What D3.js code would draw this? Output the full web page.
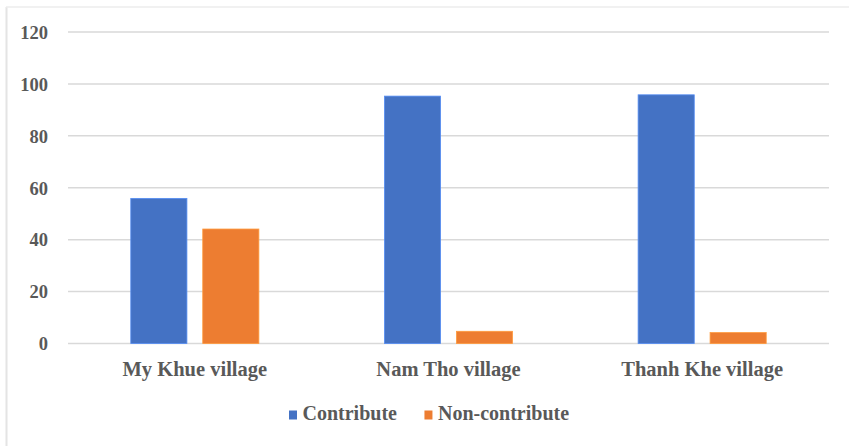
<!DOCTYPE html>
<html>
<head>
<meta charset="utf-8">
<script src="https://cdn.jsdelivr.net/npm/d3@7"></script>
<style>
  body { margin: 0; background: #fff; }
</style>
</head>
<body>
<div id="chart"></div>
<script>
// chart values
const categories = ["My Khue village", "Nam Tho village", "Thanh Khe village"];
const seriesNames = ["Contribute", "Non-contribute"];
const contribute = [55.9, 95.3, 95.8];
const nonContribute = [44.1, 4.7, 4.2];
const yTicks = [0, 20, 40, 60, 80, 100, 120];

const colors = {"Contribute": "#4472c4", "Non-contribute": "#ed7d31"};
const serif = "'Liberation Serif'";

const width = 849, height = 446;
const margin = {top: 32, left: 68};
const innerW = 829 - margin.left, innerH = 343.5 - margin.top;

const svg = d3.select("#chart").append("svg")
    .attr("width", width)
    .attr("height", height);

// faint chart border (left and top only visible)
svg.append("line").attr("x1", 6.5).attr("x2", 6.5).attr("y1", 7).attr("y2", height)
    .attr("stroke", "#e4e4e4").attr("stroke-width", 2);
svg.append("line").attr("x1", 6).attr("x2", width).attr("y1", 7).attr("y2", 7)
    .attr("stroke", "#ececec").attr("stroke-width", 1.5);

const g = svg.append("g")
    .attr("transform", "translate(" + margin.left + "," + margin.top + ")");

const y = d3.scaleLinear().domain([0, 120]).range([innerH, 0]);

const x0 = d3.scaleBand().domain(categories).range([0, innerW]).paddingInner(0.495).paddingOuter(0.2475);
const x1 = d3.scaleBand().domain(seriesNames).range([0, x0.bandwidth()]).paddingInner(0.22);

// gridlines
g.append("g")
    .selectAll("line")
    .data(yTicks)
    .enter().append("line")
    .attr("x1", 0).attr("x2", innerW)
    .attr("y1", d => y(d)).attr("y2", d => y(d))
    .attr("stroke", "#d9d9d9")
    .attr("stroke-width", 1.5);

// y axis labels
const yAxis = g.append("g")
    .call(d3.axisLeft(y).tickValues(yTicks).tickSize(0).tickPadding(20));
yAxis.select(".domain").remove();
yAxis.selectAll("text")
    .style("font-family", serif)
    .style("font-size", "18.5px")
    .style("font-weight", "bold")
    .style("fill", "#595959")
    .attr("dy", "0.34em");

// bars
const rows = categories.map((c, i) => ({cat: c, values: [
    {key: "Contribute", value: contribute[i]},
    {key: "Non-contribute", value: nonContribute[i]}
]}));

g.selectAll(".group")
    .data(rows)
    .enter().append("g")
    .attr("transform", d => "translate(" + x0(d.cat) + ",0)")
    .selectAll("rect")
    .data(d => d.values)
    .enter().append("rect")
    .attr("x", d => x1(d.key))
    .attr("width", x1.bandwidth())
    .attr("y", d => y(d.value))
    .attr("height", d => innerH - y(d.value))
    .attr("fill", d => colors[d.key])
    .attr("stroke", d => d3.color(colors[d.key]).brighter(0.6))
    .attr("stroke-width", 0.8);

// x axis labels
const xAxis = g.append("g")
    .attr("transform", "translate(0," + innerH + ")")
    .call(d3.axisBottom(x0).tickSize(0).tickPadding(17.6));
xAxis.select(".domain").remove();
xAxis.selectAll("text")
    .style("font-family", serif)
    .style("font-size", "20.5px")
    .style("font-weight", "bold")
    .style("fill", "#595959");

// legend
const legend = svg.append("g").attr("transform", "translate(289,420)");
let lx = 0;
seriesNames.forEach(function (name) {
    const item = legend.append("g").attr("transform", "translate(" + lx + ",0)");
    item.append("rect").attr("x", 0).attr("y", -9.5).attr("width", 8).attr("height", 9)
        .attr("fill", colors[name]);
    const t = item.append("text").attr("x", 13.5).attr("y", 0)
        .style("font-family", serif)
        .style("font-size", "20px")
        .style("font-weight", "bold")
        .style("fill", "#595959")
        .text(name);
    lx += 13.5 + t.node().getComputedTextLength() + 27.5;
});
</script>
</body>
</html>
